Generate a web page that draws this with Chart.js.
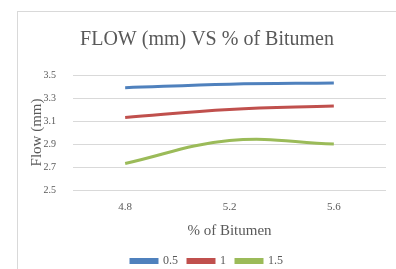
<!DOCTYPE html>
<html>
<head>
<meta charset="utf-8">
<script src="https://cdn.jsdelivr.net/npm/chart.js@4/dist/chart.umd.min.js"></script>
<style>
  body { margin: 0; background: #fff; }
  #wrap { position: relative; width: 396px; height: 269px; overflow: hidden; }
  #frame { position: absolute; left: 17px; top: 11px; width: 400px; height: 300px; border: 1px solid #d9d9d9; box-sizing: border-box; }
  canvas { position: absolute; left: 0; top: 0; }
</style>
</head>
<body>
<div id="wrap">
  <div id="frame"></div>
  <canvas id="chartCanvas" width="396" height="269"></canvas>
</div>
<script>
// bitumen content (%)
const categories = ['4.8', '5.2', '5.6'];
// flow values (mm) for each series
const flow05 = [3.39, 3.42, 3.43];
const flow1 = [3.13, 3.20, 3.23];
const flow15 = [2.73, 2.93, 2.90];
const seriesNames = ['0.5', '1', '1.5'];
const yTicks = [2.5, 2.7, 2.9, 3.1, 3.3, 3.5];

const serif = '"Liberation Serif", "Times New Roman", serif';
const grey = '#595959';

function makeSet(label, data, color) {
  return {
    label: label,
    data: data,
    borderColor: color,
    backgroundColor: color,
    borderWidth: 3,
    pointRadius: 0,
    tension: 0.4,
    fill: false
  };
}

var ctx = document.getElementById('chartCanvas').getContext('2d');
new Chart(ctx, {
  type: 'line',
  data: {
    labels: categories,
    datasets: [
      makeSet(seriesNames[0], flow05, '#4F81BD'),
      makeSet(seriesNames[1], flow1, '#C0504D'),
      makeSet(seriesNames[2], flow15, '#9BBB59')
    ]
  },
  options: {
    responsive: false,
    animation: false,
    layout: { padding: { left: 28, right: 10, top: 0, bottom: -8 } },
    plugins: {
      title: {
        display: true,
        text: 'FLOW (mm) VS % of Bitumen',
        color: grey,
        font: { family: serif, size: 20, weight: 'normal' },
        padding: { top: 28, bottom: 23 }
      },
      legend: {
        position: 'bottom',
        labels: {
          color: grey,
          font: { family: serif, size: 12 },
          boxWidth: 26,
          boxHeight: 3,
          padding: 10
        }
      },
      tooltip: { enabled: false }
    },
    scales: {
      x: {
        offset: true,
        afterFit: function(scale) { scale.height = 55; },
        grid: { display: false },
        border: { display: false },
        ticks: { color: grey, font: { family: serif, size: 11 }, padding: 3 },
        title: {
          display: true,
          text: '% of Bitumen',
          color: grey,
          font: { family: serif, size: 15 },
          padding: { top: 4, bottom: 5 }
        }
      },
      y: {
        min: 2.5,
        max: 3.5,
        afterBuildTicks: function(scale) {
          scale.ticks = yTicks.map(v => ({ value: v }));
        },
        afterFit: function(scale) { scale.width = 45; },
        grid: { color: '#d9d9d9', drawTicks: false },
        border: { display: false },
        ticks: {
          color: grey,
          font: { family: serif, size: 10 },
          padding: 17,
          callback: v => v.toFixed(1)
        },
        title: {
          display: true,
          text: 'Flow (mm)',
          color: grey,
          font: { family: serif, size: 15 },
          padding: 0
        }
      }
    }
  }
});
</script>
</body>
</html>
